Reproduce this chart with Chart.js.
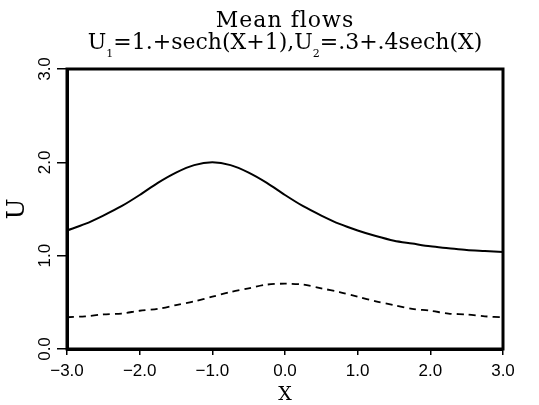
<!DOCTYPE html>
<html>
<head>
<meta charset="utf-8">
<script src="https://cdn.jsdelivr.net/npm/chart.js@4/dist/chart.umd.min.js"></script>
<style>
html,body{margin:0;padding:0;background:#fff;}
#wrap{width:539px;height:405px;}
</style>
</head>
<body>
<div id="wrap"><canvas id="c" width="539" height="405"></canvas></div>
<script>
// Data
const xValues = [-3.0,-2.75,-2.5,-2.25,-2.0,-1.75,-1.5,-1.25,-1.0,-0.75,-0.5,-0.25,0.0,0.25,0.5,0.75,1.0,1.25,1.5,1.75,2.0,2.25,2.5,2.75,3.0];
const u1Values = [1.27,1.34,1.43,1.53,1.65,1.78,1.89,1.97,2.00,1.97,1.89,1.78,1.65,1.53,1.43,1.34,1.27,1.21,1.16,1.13,1.10,1.08,1.06,1.05,1.04];
const u2Values = [0.34,0.35,0.37,0.38,0.41,0.43,0.47,0.51,0.56,0.61,0.65,0.69,0.70,0.69,0.65,0.61,0.56,0.51,0.47,0.43,0.41,0.38,0.37,0.35,0.34];
const xTickValues = [-3,-2,-1,0,1,2,3];
const yTickValues = [0,1,2,3];
const titleLine1 = "Mean flows";
const titleLine2 = [["U",""],["1","sub"],["=1.+sech(X+1),U",""],["2","sub"],["=.3+.4sech(X)",""]];

const SERIF = "'DejaVu Serif', serif";
const SANS = "'Liberation Sans', Arial, sans-serif";

const pts = (ys) => xValues.map((x,i)=>({x:x,y:ys[i]}));

const framePlugin = {
  id:'frame',
  afterDatasetsDraw(chart){
    const {ctx, chartArea:a} = chart;
    ctx.save();
    ctx.strokeStyle='#000';
    ctx.lineWidth=3;
    ctx.strokeRect(a.left, a.top, a.right-a.left, a.bottom-a.top);
    ctx.restore();
  },
  afterDraw(chart){
    const {ctx, chartArea:a} = chart;
    const ys = chart.scales.y;
    ctx.save();
    ctx.fillStyle='#000';
    // rotated y tick labels
    ctx.font = "17px " + SANS;
    ctx.textAlign='center';
    ctx.textBaseline='middle';
    yTickValues.forEach(v=>{
      const py = ys.getPixelForValue(v);
      ctx.save();
      ctx.translate(45, py);
      ctx.rotate(-Math.PI/2);
      ctx.fillText(v.toFixed(1), 0, 0);
      ctx.restore();
    });
    // titles
    const cx = (a.left + a.right)/2;
    ctx.font = "22px " + SERIF;
    ctx.textBaseline='alphabetic';
    ctx.textAlign='center';
    ctx.letterSpacing = '1px';
    ctx.fillText(titleLine1, cx, 27);
    // line 2 with subscripts
    ctx.letterSpacing = '0px';
    const mainFont = "22px " + SERIF, subFont = "11px " + SERIF;
    let total = 0;
    titleLine2.forEach(([t,k])=>{ctx.font = k==='sub'?subFont:mainFont; total += ctx.measureText(t).width;});
    let x = cx - total/2;
    ctx.textAlign='left';
    titleLine2.forEach(([t,k])=>{
      ctx.font = k==='sub'?subFont:mainFont;
      ctx.fillText(t, x, k==='sub'?57:49);
      x += ctx.measureText(t).width;
    });
    ctx.restore();
  }
};

new Chart(document.getElementById('c'), {
  type:'line',
  data:{
    datasets:[
      {label:'U1', data:pts(u1Values), borderColor:'#000', borderWidth:2, pointRadius:0, tension:0.3, fill:false},
      {label:'U2', data:pts(u2Values), borderColor:'#000', borderWidth:1.8, borderDash:[7,5], pointRadius:0, tension:0.3, fill:false}
    ]
  },
  options:{
    responsive:false,
    animation:false,
    layout:{padding:{left:0, right:36, top:69, bottom:0}},
    plugins:{legend:{display:false}, title:{display:false}, tooltip:{enabled:false}},
    scales:{
      x:{
        type:'linear', min:-3, max:3,
        afterBuildTicks(s){ s.ticks = xTickValues.map(v=>({value:v})); },
        afterFit(s){ s.height = 56; },
        grid:{drawOnChartArea:false, drawTicks:true, tickLength:6, color:'#000', lineWidth:1.5},
        border:{display:true, color:'#000', width:3},
        ticks:{color:'#000', font:{family:SANS, size:17}, padding:6, maxRotation:0,
          callback:(v)=> (v<0?'\u2212':'') + Math.abs(v).toFixed(1)},
        title:{display:true, text:'X', color:'#000', font:{family:SERIF, size:19, lineHeight:1}, padding:{top:0,bottom:0}}
      },
      y:{
        min:0, max:3,
        afterBuildTicks(s){ s.ticks = yTickValues.map(v=>({value:v})); },
        afterFit(s){ s.width = 67; },
        grid:{drawOnChartArea:false, drawTicks:true, tickLength:10, color:'#000', lineWidth:1.5},
        border:{display:true, color:'#000', width:3},
        ticks:{display:false},
        title:{display:true, text:'U', color:'#000', font:{family:SERIF, size:25, lineHeight:1}, padding:{top:5,bottom:0}}
      }
    }
  },
  plugins:[framePlugin]
});
</script>
</body>
</html>
